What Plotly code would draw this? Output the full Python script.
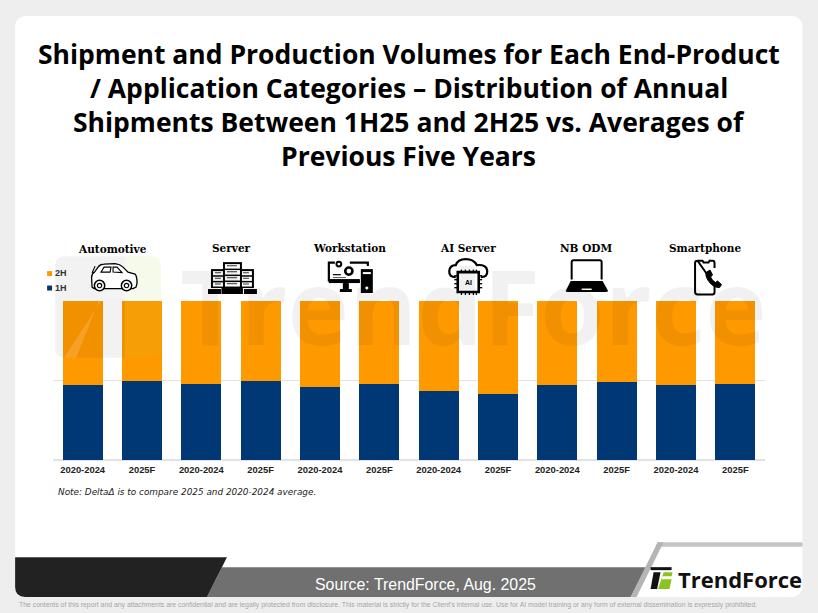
import plotly.graph_objects as go

# ---------- data ----------
PERIODS = ["2020-2024", "2025F"] * 6
SLOTS = list(range(12))
H1 = [47.4, 49.7, 48.0, 49.7, 46.1, 48.0, 43.2, 41.3, 47.4, 49.3, 47.0, 47.8]
H2 = [100 - v for v in H1]
GROUPS = ["Automotive", "Server", "Workstation", "AI Server", "NB ODM", "Smartphone"]
TITLE_LINES = [
    "Shipment and Production Volumes for Each End-Product",
    "/ Application Categories – Distribution of Annual",
    "Shipments Between 1H25 and 2H25 vs. Averages of",
    "Previous Five Years",
]
NOTE = "Note: DeltaΔ is to compare 2025 and 2020-2024 average."
SOURCE = "Source: TrendForce, Aug. 2025"
DISCLAIMER = ("The contents of this report and any attachments are confidential and are legally protected from disclosure. "
              "This material is strictly for the Client's internal use. Use for AI model training or any form of external "
              "dissemination is expressly prohibited.")

W, H = 818, 613
L, R, T, B = 52.9, 765.5, 301.0, 460.5
ORANGE, NAVY = "#FF9900", "#003875"

def px(x): return (x - L) / (R - L)
def py(y): return (B - y) / (B - T)

def path(d):
    """Translate 'M x y L x y ...' written in page pixels to paper coordinates."""
    out, nums = [], []
    for tok in d.split():
        if tok.isalpha():
            out.append(tok)
        else:
            nums.append(float(tok))
            out.append(f"{px(nums[-1]):.5f}" if len(nums) % 2 else f"{py(nums[-1]):.5f}")
    return " ".join(out)

shapes = []
def poly(d, fill="black", line=None, lw=0, layer="above", opacity=1):
    shapes.append(dict(type="path", xref="paper", yref="paper", path=path(d), fillcolor=fill,
                       line=dict(color=line or "rgba(0,0,0,0)", width=lw), layer=layer, opacity=opacity))
def rect(x0, y0, x1, y1, fill="black", line=None, lw=0, layer="above", opacity=1):
    shapes.append(dict(type="rect", xref="paper", yref="paper", x0=px(x0), x1=px(x1), y0=py(y1), y1=py(y0),
                       fillcolor=fill, line=dict(color=line or "rgba(0,0,0,0)", width=lw), layer=layer, opacity=opacity))
def circ(cx, cy, r, fill="white", line="black", lw=1.5):
    shapes.append(dict(type="circle", xref="paper", yref="paper", x0=px(cx - r), x1=px(cx + r), y0=py(cy + r), y1=py(cy - r),
                       fillcolor=fill, line=dict(color=line, width=lw), layer="above"))

# ---------- page furniture ----------
poly("M 27 15 L 791 15 Q 803 15 803 27 L 803 586 Q 803 598 791 598 L 27 598 Q 15 598 15 586 L 15 27 Q 15 15 27 15 Z",
     fill="white", layer="below")
poly("M 222 568 L 647 568 L 631 598 L 207 598 Z", fill="#707070", layer="below")
poly("M 15 558 L 227 558 L 207 598 L 25 598 Q 15 598 15 588 Z", fill="#222222", layer="below")
poly("M 658 543 L 803 543 L 803 547.5 L 656 547.5 Z", fill="#c4c4c4", layer="below")
poly("M 658 543 L 664 543 L 637 598 L 631 598 Z", fill="#b5b5b5", layer="below")

# watermark logo
poly("M 65 256 L 125 256 L 125 358 L 65 358 Q 55 358 55 348 L 55 266 Q 55 256 65 256 Z", fill="#000000", opacity=0.05)
poly("M 125 256 L 150 256 Q 161 256 161 266 L 161 348 Q 161 358 150 358 L 125 358 Z", fill="#9acb3c", opacity=0.10)
poly("M 108 290 L 150 290 L 150 298 L 100 298 L 76 358 L 64 358 Z", fill="#ffffff", opacity=0.15)

# legend squares
rect(47, 271, 52, 276, fill=ORANGE)
rect(47, 285.5, 52, 290.5, fill=NAVY)

# car icon
poly("M 92 287 L 91.5 277 Q 92 273 94.5 272 L 98 267 Q 100 264 104 264 L 115 263.5 Q 120 264 123 267 L 128 272 "
     "L 135 274 Q 137 276 137 283 L 136 287 L 133 288.5 L 94 288.5 Z", fill="white", line="black", lw=1.3)
poly("M 101 272 L 104 267 L 111 267 L 110 272 Z", fill="white", line="black", lw=1.1)
poly("M 113 267 L 117 267 L 122 272.5 L 113 272 Z", fill="white", line="black", lw=1.1)
poly("M 92 273 L 95 266", fill="rgba(0,0,0,0)", line="black", lw=1.1)
circ(99.5, 285.5, 5.2); circ(99.5, 285.5, 2.2, lw=1.2)
circ(126.5, 285.5, 5.2); circ(126.5, 285.5, 2.2, lw=1.2)

# server icon
for x0, x1, y0, y1 in [(211, 226, 269, 288), (239, 254, 269, 288), (223, 242, 262, 288)]:
    rect(x0, y0, x1, y1, fill="black")
    n = 3 if x1 - x0 < 18 else 4
    for i in range(n):
        yy = y0 + 2 + i * (y1 - y0 - 2) / n
        rect(x0 + 2, yy, x1 - 2, yy + (y1 - y0 - 2) / n - 1.5, fill="white")
        rect(x0 + 4, yy + 1, x1 - 5, yy + 2.2, fill="#555555")
rect(208, 289, 221, 294, fill="black"); rect(221.5, 288, 243, 294, fill="black"); rect(244, 289, 257, 294, fill="black")

# workstation icon
poly("M 329 281.5 L 329 262.5 L 335 262.5 M 350 262.5 L 368 262.5 L 368 266 M 329 281.5 L 360 281.5",
     fill="rgba(0,0,0,0)", line="black", lw=2.2)
rect(329, 279, 360, 283, fill="black")
rect(343, 283, 349, 289, fill="black"); rect(340, 289, 352, 292, fill="black")
circ(349, 271, 3.6, fill="white", line="black", lw=2.6)
circ(339, 264, 2.4, fill="white", line="black", lw=2)
rect(333, 274, 341, 275.2, fill="black"); rect(333, 277, 346, 278, fill="#555555")
rect(361, 269, 373, 293, fill="black"); rect(363, 272, 371, 274, fill="white"); circ(367, 288, 1.3, fill="white", line="white", lw=0.5)

# AI server icon
poly("M 456 277 Q 449 277 449.5 271 Q 450 265 456 265 Q 458 259 466 259 Q 474 259 477 265 Q 487 264 487.5 271 "
     "Q 488 277 481 277", fill="white", line="black", lw=2.2)
rect(458, 272, 479, 292, fill="white", line="black", lw=2.6)
for x in (461, 465, 469, 473, 476):
    rect(x, 269.5, x + 1.3, 272, fill="black"); rect(x, 292, x + 1.3, 295, fill="black")
for y in (275, 279, 283, 287):
    rect(454.5, y, 458, y + 1.3, fill="black"); rect(479, y, 482.5, y + 1.3, fill="black")

# laptop icon
poly("M 572 279.5 L 572 262 Q 572 260 574 260 L 600 260 Q 602 260 602 262 L 602 279.5", fill="white", line="black", lw=2)
poly("M 571 281 L 603 281 L 608.5 291 Q 608 292 606 292 L 568 292 Q 566 292 566 291 Z", fill="black")
rect(582, 288.5, 592, 290, fill="white")

# phone icon
poly("M 698 260.5 L 703 260.5 L 704 262.5 L 709 262.5 L 710 260.5 L 713 260.5 Q 715 260.5 715 263 L 715 268 "
     "M 715 285 L 715 292 Q 715 294.5 713 294.5 L 698 294.5 Q 695.5 294.5 695.5 292 L 695.5 263 Q 695.5 260.5 698 260.5 Z",
     fill="rgba(0,0,0,0)", line="black", lw=2)
poly("M 707 272 L 710.5 270 L 713 275 L 711 277 Q 712 280 716 282.5 L 718 281 L 722 284.5 L 720 287.5 Q 714 288 709 281 Q 705 275 707 272 Z",
     fill="black", line="black", lw=1)

# brand mark
poly("M 651 568 L 672 568 L 672 571 L 651 571 Z", fill="#111111")
poly("M 654 573 L 661 573 L 657.5 590 L 651 590 Z", fill="#111111")
poly("M 664 573 L 673 573 L 672 577 L 663 577 L 662 580 L 672 580 L 670 590 L 658.5 590 Z", fill="#8cc320")

# ---------- text ----------
ann = []
def text(x, y, s, size, color="black", family="Liberation Sans", bold=False, italic=False, anchor="center"):
    ann.append(dict(x=px(x), y=py(y), xref="paper", yref="paper", text=s, showarrow=False, xanchor=anchor, yanchor="middle",
                    font=dict(size=size, color=color, family=family,
                              weight="bold" if bold else "normal", style="italic" if italic else "normal"),
                    borderpad=0, borderwidth=0))

for y, line in zip((53.5, 87.5, 121.5, 155.5), TITLE_LINES):
    text(409, y, line, 26.5, family="Open Sans", bold=True)
for x, y, g in zip((112.5, 231.5, 349.5, 468, 586.5, 705.5), (249, 248, 248, 248, 248, 248), GROUPS):
    text(x, y, g, 10.5, family="DejaVu Serif", bold=True)
text(55, 272.5, "2H", 9, color="#333333", bold=True, anchor="left")
text(55, 288, "1H", 9, color="#333333", bold=True, anchor="left")
text(468.5, 282, "AI", 7, color="black", bold=True)
text(58, 493, NOTE, 8.9, color="#222222", family="DejaVu Sans", italic=True, anchor="left")
text(425.5, 585, SOURCE, 15.9, color="white")
text(388, 606, DISCLAIMER, 6.86, color="#a6a6a6")
text(740, 580, "TrendForce", 22, color="#111111", family="Open Sans", bold=True)
# watermark word
text(474, 305, "TrendForce", 104, color="rgba(0,0,0,0.055)", family="Open Sans", bold=True)

# ---------- figure ----------
fig = go.Figure()
fig.add_bar(x=SLOTS, y=H1, name="1H", marker=dict(color=NAVY, line=dict(width=0)))
fig.add_bar(x=SLOTS, y=H2, name="2H", marker=dict(color=ORANGE, line=dict(width=0)))
fig.update_layout(
    width=W, height=H, barmode="stack", bargap=0.33, showlegend=False,
    paper_bgcolor="#EEEEEE", plot_bgcolor="rgba(0,0,0,0)",
    margin=dict(l=L, r=W - R, t=T, b=H - B, pad=0),
    shapes=shapes, annotations=ann,
    xaxis=dict(tickmode="array", tickvals=SLOTS, ticktext=PERIODS, range=[-0.5, 11.5], showgrid=False,
               showline=False, zeroline=False, ticks="", ticklabelstandoff=3,
               tickfont=dict(size=9.4, color="#222222", family="Liberation Sans", weight="bold")),
    yaxis=dict(range=[0, 100], tickvals=[0, 50, 100], showticklabels=False, gridcolor="#E2E2E2", gridwidth=1,
               zeroline=True, zerolinecolor="#E2E2E2", showline=False, ticks=""),
)
fig.write_html("out.html", config=dict(displayModeBar=False),
               post_script="document.body.style.margin='0';document.documentElement.style.overflow='hidden';")
